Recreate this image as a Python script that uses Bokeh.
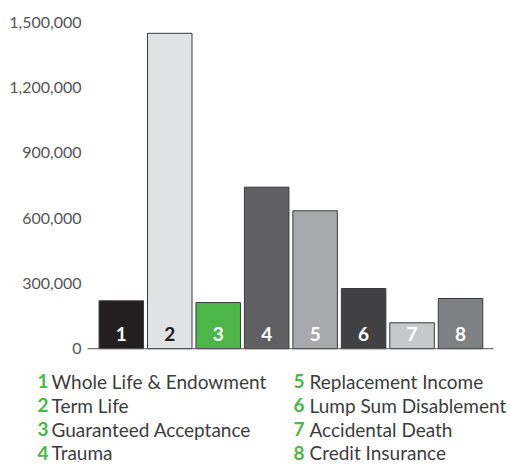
from bokeh.plotting import figure
from bokeh.models import Range1d, ColumnDataSource
from bokeh.core.properties import value
from bokeh.embed import file_html
from bokeh.resources import INLINE

# ---- data ----
bar_numbers = ["1", "2", "3", "4", "5", "6", "7", "8"]
categories = ["Whole Life & Endowment", "Term Life", "Guaranteed Acceptance", "Trauma",
              "Replacement Income", "Lump Sum Disablement", "Accidental Death", "Credit Insurance"]
values = [220000, 1449000, 212000, 742000, 633500, 276500, 119000, 230600]
bar_colors = ["#231f20", "#e1e2e4", "#4cb748", "#606062", "#a8a9ad", "#414143", "#c7c8ca", "#7f8083"]
label_colors = ["#ffffff", "#231f20", "#ffffff", "#ffffff", "#ffffff", "#ffffff", "#ffffff", "#ffffff"]
y_ticks = [0, 300000, 600000, 900000, 1200000, 1500000]
y_tick_labels = ["0", "300,000", "600,000", "900,000", "1,200,000", "1,500,000"]

FONT = "Lato"
W, H = 510, 464

# ---- layout (pixel geometry -> data ranges) ----
PITCH = 48.46          # px per category
X1_PX = 120.8          # px centre of first bar
ZERO_PX = 348.2        # px of zero line
PER_PX = 300000 / 65.3 # value per px


def px2x(px):
    return 1 + (px - X1_PX) / PITCH


def py2y(py):
    return (ZERO_PX - py) * PER_PX


p = figure(width=W, height=H, output_backend="svg", toolbar_location=None,
           x_range=Range1d(px2x(0), px2x(W)), y_range=Range1d(py2y(H), py2y(0)),
           x_axis_location=None, y_axis_location=None, min_border=0)
p.outline_line_color = None
p.grid.visible = False
p.background_fill_color = "white"
p.border_fill_color = "white"

xs = list(range(1, len(values) + 1))
src = ColumnDataSource(dict(x=xs, top=values, color=bar_colors, num=bar_numbers, lc=label_colors))

# bars
p.vbar(x="x", top="top", bottom=0, width=44.5 / PITCH, fill_color="color",
       line_color="#3a3a3a", line_width=1, source=src)
# numbers in bars
p.text(x="x", y=0, text="num", source=src, text_color="lc",
       text_font=value(FONT), text_font_style="bold", text_font_size="19px",
       text_align="center", text_baseline="middle", y_offset=-15)

# baseline
p.segment(x0=[px2x(87)], y0=[0], x1=[px2x(493)], y1=[0], line_color="#555555", line_width=1)

# y tick labels
tsrc = ColumnDataSource(dict(x=[px2x(81)] * len(y_ticks), y=y_ticks, t=y_tick_labels))
p.text(x="x", y="y", text="t", source=tsrc, text_color="#555555",
       text_font=value(FONT), text_font_size="16px",
       text_align="right", text_baseline="middle")

# legend
half = len(categories) // 2
num_x = [px2x(37)] * half + [px2x(293)] * half
txt_x = [px2x(51)] * half + [px2x(309)] * half
row_px = [380.5, 404.5, 428.5, 452]
row_y = [py2y(v) for v in row_px] * 2
lsrc = ColumnDataSource(dict(nx=num_x, tx=txt_x, y=row_y, num=bar_numbers, cat=categories))
p.text(x="nx", y="y", text="num", source=lsrc, text_color="#4cb748",
       text_font=value(FONT), text_font_style="bold", text_font_size="19px",
       text_align="left", text_baseline="middle")
p.text(x="tx", y="y", text="cat", source=lsrc, text_color="#3c3c3c",
       text_font=value(FONT), text_font_size="19px",
       text_align="left", text_baseline="middle")

open("out.html", "w").write(file_html(p, INLINE))
